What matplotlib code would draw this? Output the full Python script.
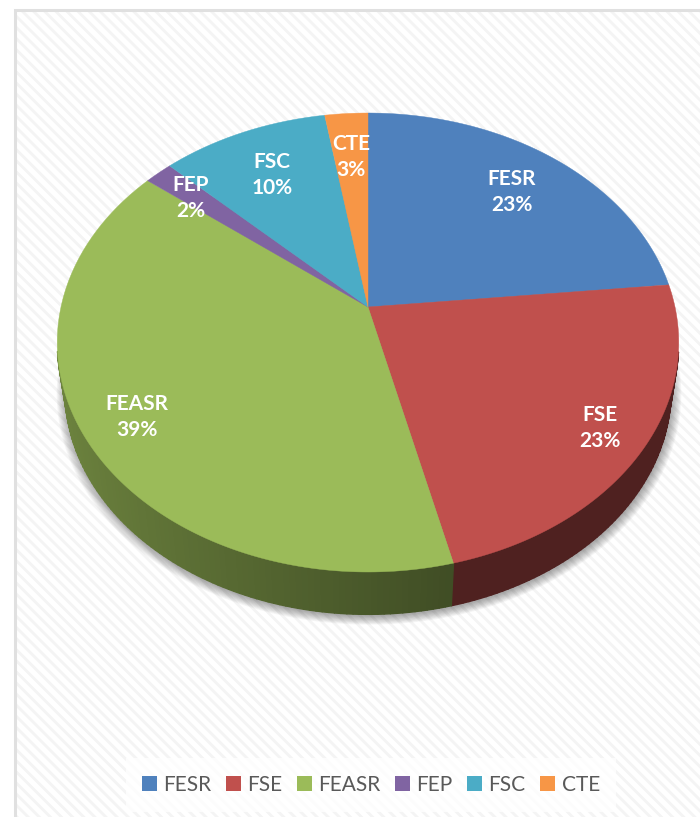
import numpy as np
import matplotlib
matplotlib.use("Agg")
import matplotlib.pyplot as plt
from matplotlib.patches import Polygon, Rectangle

categories = ["FESR", "FSE", "FEASR", "FEP", "FSC", "CTE"]
values = [23.4, 22.8, 39.4, 1.7, 10.1, 2.6]
colors = ["#4F81BD", "#C0504D", "#9BBB59", "#8064A2", "#4BACC6", "#F79646"]
label_pos = [(512, 192), (600, 428), (137, 417), (191, 198), (272, 175), (351, 157)]

plt.rcParams['font.family'] = ['Lato', 'DejaVu Sans']
plt.rcParams['hatch.linewidth'] = 2.0

fig = plt.figure(figsize=(7, 8.17), dpi=100, facecolor="white")
ax = fig.add_axes([0, 0, 1, 1])
ax.set_xlim(0, 700)
ax.set_ylim(817, 0)
ax.axis("off")

# chart background
ax.add_patch(Rectangle((15, 10), 700, 820, facecolor="white", edgecolor="#f4f4f4",
                       hatch="\\\\\\", lw=0, zorder=0))
ax.plot([15, 15, 700], [817, 10, 10], color="#e0e0e0", lw=2.2, zorder=1, solid_joinstyle="miter")

# the library's pie gives the slice angles
hidden = fig.add_axes([0, 0, 0.01, 0.01])
wedges, _ = hidden.pie(values, startangle=90, counterclock=False, normalize=True)
hidden.set_visible(False)

CX, CY, A, B, K = 368.0, 307.0, 224.0, 307.0, 0.1547


def project(deg):
    t = np.radians(deg)
    u, v = np.cos(t), np.sin(t)
    den = 1 + K * v
    return CX + B * u / den, CY - A * v / den


def lower(x, y):
    return CX + (x - CX) * 0.975, CY + (y - CY) * 0.975 + 49


# soft shadow under the pie
ta = np.linspace(0, 360, 361)
sx, sy = lower(*project(ta))
for i in range(12):
    grow = 1 + i * 0.0028
    ax.add_patch(Polygon(np.c_[CX + (sx - CX) * grow + 1, 345 + (sy - 345) * grow + 2],
                         closed=True, facecolor="#303030", edgecolor="none", alpha=0.04, zorder=2))

# rim of the slices (only the front part is visible)
for w, c in zip(wedges, colors):
    t1, t2 = sorted((w.theta1, w.theta2))
    base = np.array(matplotlib.colors.to_rgb(c))
    n = max(int(t2 - t1), 2)
    grid = np.linspace(t1, t2, n + 1)
    for a, b in zip(grid[:-1], grid[1:]):
        if np.sin(np.radians((a + b) / 2)) > -0.2:
            continue
        xa, ya = project(a)
        xb, yb = project(b)
        xc, yc = lower(xb, yb)
        xd, yd = lower(xa, ya)
        u = np.cos(np.radians((a + b) / 2))
        f = 0.41 + 0.30 * np.clip((0.25 - u) / 1.25, 0, 1)
        ax.add_patch(Polygon([(xa, ya), (xb, yb), (xc, yc), (xd, yd)], closed=True,
                             facecolor=base * f, edgecolor=base * f, lw=1.0, zorder=3,
                             joinstyle="round"))

# top face
for w, c in zip(wedges, colors):
    t1, t2 = sorted((w.theta1, w.theta2))
    px, py = project(np.linspace(t1, t2, max(int(t2 - t1) * 2, 6)))
    ax.add_patch(Polygon(np.r_[[[CX, CY]], np.c_[px, py]], closed=True,
                         facecolor=c, edgecolor=c, lw=0.3, zorder=4))

# data labels
for name, val, (x, y) in zip(categories, values, label_pos):
    ax.text(x, y, f"{name}\n{val:.0f}%", color="white", fontsize=15, fontweight="bold",
            ha="center", va="center", linespacing=1.4, zorder=5)

# legend
handles = [Rectangle((0, 0), 1, 1, facecolor=c, edgecolor="none") for c in colors]
leg = ax.legend(handles, categories, loc="center", bbox_to_anchor=(371 / 700, 1 - 785 / 817),
                ncol=6, frameon=True, fontsize=15, labelcolor="#595959", handlelength=0.72,
                handleheight=0.72, handletextpad=0.3, columnspacing=0.7, borderpad=0.8,
                fancybox=False, framealpha=0.8, edgecolor="none", facecolor="white")
leg.set_zorder(6)

fig.savefig("out.png", dpi=100)
